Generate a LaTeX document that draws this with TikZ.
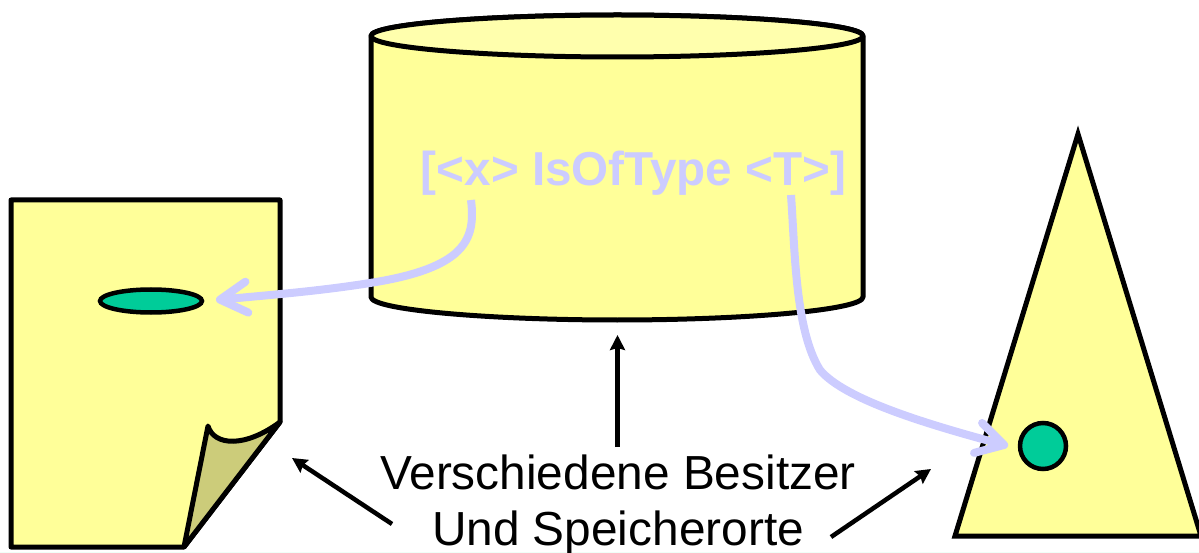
\documentclass[tikz,border=0pt]{standalone}
\usepackage{fontspec}
\setmainfont{Liberation Sans}
\usetikzlibrary{arrows.meta,shapes.geometric}
\definecolor{paleyellow}{HTML}{FFFF99}
\definecolor{lidcol}{HTML}{FFFFAD}
\definecolor{foldcol}{HTML}{CCCC7A}
\definecolor{spotcol}{HTML}{00CC99}
\definecolor{lav}{HTML}{CCCCFF}
\definecolor{stripcol}{HTML}{F0FFF8}
\tikzset{
  x=1pt,y=-1pt,
  shapeline/.style={draw=black,line width=5pt,line join=round,fill=paleyellow},
  spot/.style={draw=black,line width=4.5pt,fill=spotcol,inner sep=0pt,outer sep=0pt},
  callout/.style={draw=black,line width=4.5pt,-{Stealth[length=15pt,width=15pt,inset=2pt]}},
  link/.style={draw=lav,line width=8pt,-{Straight Barb[length=27pt,width=31pt,line width=8pt,round]}},
  caption/.style={font=\fontsize{47.8}{56}\selectfont,text=black,inner sep=0pt,anchor=base},
  formula/.style={font=\fontsize{47.6}{56}\selectfont\bfseries,text=lav,inner sep=0pt,anchor=base}
}
\begin{document}
\begin{tikzpicture}
\useasboundingbox (0,0) rectangle (1199,553);
\fill[stripcol] (0,551.5) rectangle (1199,553);
% cylinder
\path[shapeline] (371,36) -- (371,297) .. controls (371,310) and (490,320) .. (617,320) .. controls (745,320) and (863,310) .. (863,297) -- (863,36) .. controls (863,24) and (745,15) .. (617,15) .. controls (490,15) and (371,24) .. (371,36) -- cycle;
\path[shapeline,fill=lidcol] (371,36) .. controls (371,48) and (490,57) .. (617,57) .. controls (745,57) and (863,48) .. (863,36) .. controls (863,24) and (745,15) .. (617,15) .. controls (490,15) and (371,24) .. (371,36) -- cycle;
% page
\path[shapeline] (11,200) -- (280,200) -- (280,422) -- (184,547) -- (11,547) -- cycle;
\path[shapeline,fill=foldcol] (184,547) -- (208,426) .. controls (214,446) and (245,448) .. (280,422) -- cycle;
% triangle
\path[shapeline,line join=miter] (1078,134) -- (1201,536) -- (955,536) -- cycle;
% spots
\node[spot,ellipse,minimum width=102pt,minimum height=23pt] (eye) at (151,301) {};
\node[spot,circle,minimum size=46pt] (dot) at (1043,446) {};
% texts
\node[formula] (fml) at (633.5,186) {[<x> IsOfType <T>]};
\node[caption] (capa) at (618,489) {Verschiedene Besitzer};
\node[caption] (capb) at (618,545.5) {Und Speicherorte};
% free ends
\coordinate (xfoot) at (471,200);
\coordinate (tfoot) at (791,195);
\coordinate (xhead) at (216,300);
\coordinate (thead) at (1008,446);
\coordinate (cyltip) at (617.5,335);
\coordinate (cylfoot) at (617.5,447);
\coordinate (pagetip) at (292,458);
\coordinate (pagefoot) at (392,524);
\coordinate (tritip) at (931,469);
\coordinate (trifoot) at (831,537);
% links
\draw[link] (xfoot) .. controls (476,240) and (465,268) .. (370,283) .. controls (320,291) and (270,295) .. (xhead);
\draw[link] (tfoot) .. controls (795,250) and (795,330) .. (820,370) .. controls (845,400) and (930,425) .. (thead);
% callouts
\draw[callout] (cylfoot) -- (cyltip);
\draw[callout] (pagefoot) -- (pagetip);
\draw[callout] (trifoot) -- (tritip);
\end{tikzpicture}
\end{document}
